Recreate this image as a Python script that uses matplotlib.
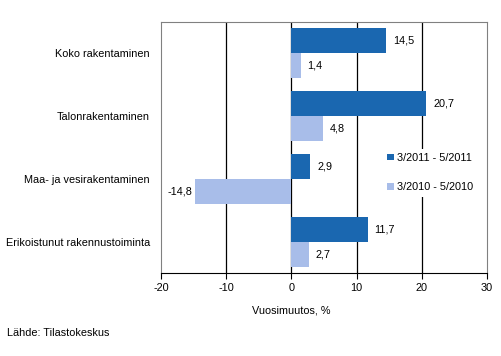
import numpy as np
import matplotlib.pyplot as plt

plt.rcParams['font.family'] = ['Liberation Sans', 'DejaVu Sans']
plt.rcParams['font.size'] = 7.8

categories = ['Koko rakentaminen', 'Talonrakentaminen',
              'Maa- ja vesirakentaminen', 'Erikoistunut rakennustoiminta']
series_2011 = [14.5, 20.7, 2.9, 11.7]
series_2010 = [1.4, 4.8, -14.8, 2.7]
labels = ['3/2011 - 5/2011', '3/2010 - 5/2010']
xticks = [-20, -10, 0, 10, 20, 30]

dark = '#1a67b0'
light = '#a8bde9'

fig = plt.figure(figsize=(5.02, 3.56), dpi=100)
ax = fig.add_axes([161/502, 1 - 273/356, 326/502, 251/356])

y = np.arange(len(categories))
h = 0.4
b1 = ax.barh(y - h/2, series_2011, height=h, color=dark, label=labels[0], zorder=3)
b2 = ax.barh(y + h/2, series_2010, height=h, color=light, label=labels[1], zorder=3)

for bars, vals in ((b1, series_2011), (b2, series_2010)):
    for bar, v in zip(bars, vals):
        yy = bar.get_y() + bar.get_height()/2
        s = ('%.1f' % v).replace('.', ',')
        if v >= 0:
            ax.annotate(s, (v, yy), xytext=(5, 0), textcoords='offset points',
                        ha='left', va='center')
        else:
            ax.annotate(s, (v, yy), xytext=(-2, 0), textcoords='offset points',
                        ha='right', va='center')

ax.set_xlim(-20, 30)
ax.set_ylim(3.5, -0.5)
ax.set_xticks(xticks)
ax.set_xticklabels([str(t) for t in xticks])
ax.set_yticks(y)
ax.set_yticklabels(categories)
ax.tick_params(axis='y', length=0, pad=8)
ax.tick_params(axis='x', length=4, direction='out', color='black')

for t in [-10, 0, 10, 20]:
    ax.axvline(t, color='black', lw=0.9, zorder=1)

for side in ['top', 'right', 'left']:
    ax.spines[side].set_color('#808080')
ax.spines['bottom'].set_color('black')

ax.set_xlabel('Vuosimuutos, %')
ax.xaxis.set_label_coords(0.40, -0.13)

leg = ax.legend(loc='center left', bbox_to_anchor=(0.68, 0.40), frameon=True,
                edgecolor='none', facecolor='white', framealpha=1,
                handlelength=0.6, handleheight=0.6, handletextpad=0.3,
                labelspacing=1.8, borderaxespad=0)
leg.get_frame().set_linewidth(0)
leg.set_zorder(4)

fig.text(7/502, 1 - 333/356, 'Lähde: Tilastokeskus', ha='left', va='center')

fig.savefig('out.png', dpi=100)
